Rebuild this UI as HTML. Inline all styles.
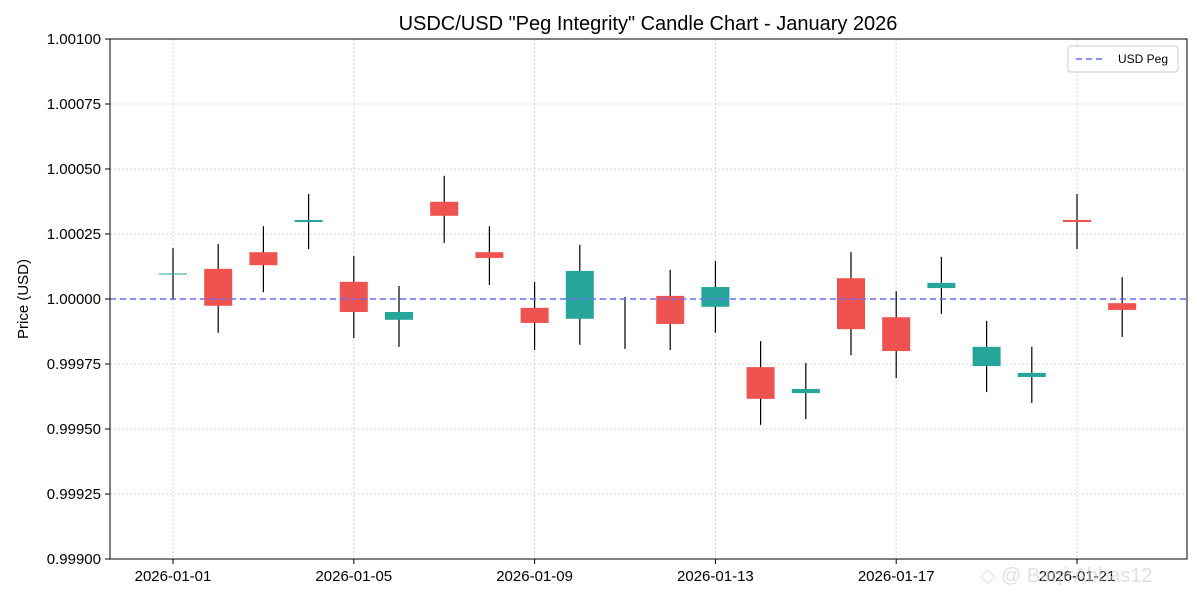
<!DOCTYPE html>
<html><head><meta charset="utf-8"><style>
body{margin:0;background:#fff;font-family:"Liberation Sans","DejaVu Sans",sans-serif;}
svg text{font-family:"Liberation Sans","DejaVu Sans",sans-serif;}
</style></head><body>
<svg id="chart" width="1200" height="600" viewBox="0 0 1200 600" xmlns="http://www.w3.org/2000/svg">
<rect width="1200" height="600" fill="#fff"/>
<text x="648" y="30" font-size="20" text-anchor="middle" fill="#000">USDC/USD "Peg Integrity" Candle Chart - January 2026</text>
<text transform="translate(28,299) rotate(-90)" font-size="15" text-anchor="middle">Price (USD)</text>
<g id="grid"></g><g id="axes"></g><g id="candles"></g>
<line id="peg" stroke="#6a6af5" stroke-width="1.6" stroke-dasharray="6,4"/>
<rect x="110" y="39" width="1077" height="520" fill="none" stroke="#000" stroke-width="1"/>
<g>
<rect x="1068" y="46" width="110" height="26" rx="3" fill="#fff" stroke="#ccc"/>
<line x1="1076" y1="59" x2="1106" y2="59" stroke="#6a6af5" stroke-width="1.6" stroke-dasharray="6,4"/>
<text x="1118" y="63" font-size="12">USD Peg</text>
</g>
<text x="980" y="582" font-size="20" fill="#ccc" opacity="0.6">◇ @ BaqirAbbas12</text>
</svg>
<script>
const dates=["2026-01-01","2026-01-02","2026-01-03","2026-01-04","2026-01-05","2026-01-06","2026-01-07","2026-01-08","2026-01-09","2026-01-10","2026-01-11","2026-01-12","2026-01-13","2026-01-14","2026-01-15","2026-01-16","2026-01-17","2026-01-18","2026-01-19","2026-01-20","2026-01-21","2026-01-22"];
const opens=[1.000094,1.000116,1.000180,1.000296,1.000066,0.999920,1.000374,1.000180,0.999966,0.999924,0.999940,1.000012,0.999970,0.999738,0.999638,1.000080,0.999930,1.000042,0.999742,0.999700,1.000304,0.999984];
const closes=[1.000098,0.999974,1.000130,1.000304,0.999950,0.999950,1.000320,1.000158,0.999908,1.000108,0.999940,0.999904,1.000046,0.999616,0.999654,0.999884,0.999800,1.000062,0.999816,0.999716,1.000296,0.999958];
const highs=[1.000196,1.000212,1.000280,1.000404,1.000166,1.000050,1.000474,1.000280,1.000066,1.000208,1.000008,1.000112,1.000146,0.999838,0.999754,1.000180,1.000030,1.000162,0.999916,0.999816,1.000404,1.000084];
const lows=[0.999996,0.999870,1.000026,1.000192,0.999850,0.999816,1.000216,1.000054,0.999804,0.999824,0.999808,0.999804,0.999870,0.999516,0.999538,0.999784,0.999696,0.999942,0.999642,0.999600,1.000192,0.999854];
const yTicks=[0.99900,0.99925,0.99950,0.99975,1.00000,1.00025,1.00050,1.00075,1.00100];
const xTickIdx=[0,4,8,12,16,20];
const peg=1.0;
const NS="http://www.w3.org/2000/svg";
const L=110,R=1187,T=39,B=559;
const y=v=>B-(v-0.999)/0.002*(B-T);
const x=i=>173+i*45.2;
function mk(t,a,p){const e=document.createElementNS(NS,t);for(const k in a)e.setAttribute(k,a[k]);p.appendChild(e);return e;}
const grid=document.getElementById('grid'),axes=document.getElementById('axes'),cg=document.getElementById('candles');
yTicks.forEach(v=>{
 const l=mk('line',{x1:L,x2:R,y1:y(v),y2:y(v),stroke:'#ccc','stroke-dasharray':'2,2','stroke-width':0.8},grid);
 
 
 mk('line',{x1:L-5,x2:L,y1:y(v),y2:y(v),stroke:'#000'},axes);
 const t=mk('text',{x:L-9,y:y(v)+5,'font-size':15,'text-anchor':'end'},axes);t.textContent=v.toFixed(5);
 
 
});
xTickIdx.forEach(i=>{
 const l=mk('line',{x1:x(i),x2:x(i),y1:T,y2:B,stroke:'#ccc','stroke-dasharray':'2,2','stroke-width':0.8},grid);
 
 
 mk('line',{x1:x(i),x2:x(i),y1:B,y2:B+5,stroke:'#000'},axes);
 const t=mk('text',{x:x(i),y:B+22,'font-size':15,'text-anchor':'middle'},axes);t.textContent=dates[i];
 
 
});
dates.forEach((d,i)=>{
 const up=closes[i]>=opens[i],col=up?'#26a69a':'#ef5350';
 const w=mk('line',{x1:x(i),x2:x(i),y1:y(highs[i]),y2:y(lows[i]),stroke:'#000','stroke-width':1.2},cg);
 
 
 if(opens[i]===closes[i])return;
 const top=y(Math.max(opens[i],closes[i])),bot=y(Math.min(opens[i],closes[i]));
 const r=mk('rect',{x:x(i)-14,y:top,width:28,height:Math.max(bot-top,1),fill:col},cg);
 
 
});
const p=document.getElementById('peg');p.setAttribute('x1',L);p.setAttribute('x2',R);p.setAttribute('y1',y(peg));p.setAttribute('y2',y(peg));
</script>
</body></html>
